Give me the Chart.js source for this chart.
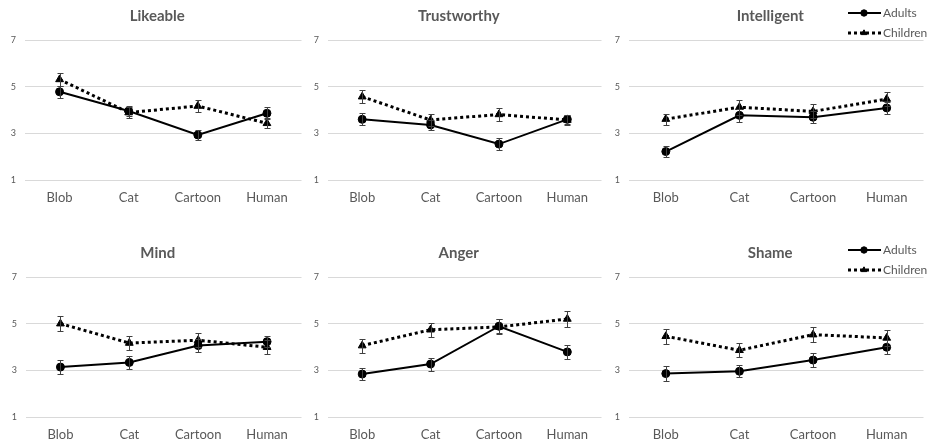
<!DOCTYPE html>
<html>
<head>
<meta charset="utf-8">
<script src="https://cdn.jsdelivr.net/npm/chart.js@4.4.1/dist/chart.umd.min.js"></script>
<style>
body{margin:0;background:#fff;width:929px;height:443px;position:relative;overflow:hidden}
canvas{position:absolute}
</style>
</head>
<body>
<canvas id="p0"></canvas>
<canvas id="p1"></canvas>
<canvas id="p2"></canvas>
<canvas id="p3"></canvas>
<canvas id="p4"></canvas>
<canvas id="p5"></canvas>
<script>
const categories = ['Blob', 'Cat', 'Cartoon', 'Human']
const panelTitles = ['Likeable', 'Trustworthy', 'Intelligent', 'Mind', 'Anger', 'Shame']
const yTicks = [1, 3, 5, 7]
const seriesNames = ['Adults', 'Children']

// means, one row per panel
const adultsMean = [
    [4.78, 3.96, 2.93, 3.86],
    [3.60, 3.36, 2.54, 3.60],
    [2.22, 3.77, 3.69, 4.09],
    [3.14, 3.34, 4.06, 4.23],
    [2.84, 3.27, 4.89, 3.79],
    [2.86, 2.96, 3.44, 3.99]
]
const childrenMean = [
    [5.31, 3.89, 4.17, 3.43],
    [4.57, 3.57, 3.81, 3.57],
    [3.61, 4.12, 3.94, 4.47],
    [5.00, 4.17, 4.29, 3.99],
    [4.06, 4.74, 4.86, 5.20],
    [4.46, 3.86, 4.53, 4.39]
]
// error bar half widths
const adultsErr = [
    [0.26, 0.20, 0.21, 0.25],
    [0.25, 0.20, 0.26, 0.20],
    [0.24, 0.29, 0.25, 0.25],
    [0.29, 0.29, 0.27, 0.24],
    [0.26, 0.28, 0.30, 0.29],
    [0.32, 0.26, 0.29, 0.29]
]
const childrenErr = [
    [0.28, 0.22, 0.27, 0.21],
    [0.29, 0.24, 0.28, 0.22],
    [0.24, 0.32, 0.30, 0.31],
    [0.31, 0.30, 0.29, 0.29],
    [0.30, 0.29, 0.32, 0.34],
    [0.31, 0.30, 0.33, 0.34]
]

// where each small chart sits on the page
const panelBoxes = [
    {left: 6, top: 0, w: 301, pr: 0}, {left: 309, top: 0, w: 298, pr: 0}, {left: 610, top: 0, w: 319, pr: 2},
    {left: 7, top: 237, w: 300, pr: 0}, {left: 309, top: 237, w: 298, pr: 0}, {left: 610, top: 237, w: 319, pr: 2}
]

const gris = '#595959'
Chart.defaults.font.family = 'Lato, "Open Sans", sans-serif'
Chart.defaults.color = gris

/*********************************************
*   PLUGINS
**********************************************/
const errorBars = {
    id: 'errorBars',
    afterDatasetsDraw(chart) {
        const ctx = chart.ctx
        const y = chart.scales.y
        chart.data.datasets.forEach((ds, d) => {
            const meta = chart.getDatasetMeta(d)
            ctx.save()
            ctx.strokeStyle = '#404040'
            ctx.lineWidth = 1
            meta.data.forEach((pt, i) => {
                const top = Math.round(y.getPixelForValue(ds.data[i] + ds.errors[i])) + 0.5
                const bot = Math.round(y.getPixelForValue(ds.data[i] - ds.errors[i])) + 0.5
                const x = Math.round(pt.x) + 0.5
                ctx.beginPath()
                ctx.moveTo(x, top); ctx.lineTo(x, bot)
                ctx.moveTo(x - 3, top); ctx.lineTo(x + 3, top)
                ctx.moveTo(x - 3, bot); ctx.lineTo(x + 3, bot)
                ctx.stroke()
            })
            ctx.restore()
        })
    }
}

// centre the title over the plot area instead of the canvas
const titleOverPlot = {
    id: 'titleOverPlot',
    afterLayout(chart) {
        if (chart.titleBlock) {
            chart.titleBlock.left = chart.chartArea.left - 6
            chart.titleBlock.right = chart.chartArea.right - 6
        }
    }
}

// legend with line + marker, as in the original
const seriesKey = {
    id: 'seriesKey',
    afterDraw(chart, args, opts) {
        if (!opts.show) return
        const ctx = chart.ctx
        chart.data.datasets.forEach((ds, d) => {
            const yy = 13 + d * 20
            ctx.save()
            ctx.strokeStyle = '#000'
            ctx.fillStyle = '#000'
            ctx.lineWidth = ds.borderWidth
            ctx.setLineDash(ds.borderDash || [])
            ctx.beginPath()
            ctx.moveTo(238, yy); ctx.lineTo(271, yy)
            ctx.stroke()
            ctx.setLineDash([])
            ctx.lineWidth = 1
            Chart.helpers.drawPoint(ctx, {pointStyle: ds.pointStyle, radius: 3.2, borderWidth: 1, rotation: 0}, 254, yy)
            ctx.fillStyle = gris
            ctx.font = '12px Lato, "Open Sans", sans-serif'
            ctx.textBaseline = 'middle'
            ctx.fillText(ds.label, 273, yy)
            ctx.restore()
        })
    }
}

function grafico(n) {
    const box = panelBoxes[n]
    const cv = document.getElementById('p' + n)
    cv.width = box.w
    cv.height = 206
    cv.style.left = box.left + 'px'
    cv.style.top = box.top + 'px'

    const data = {
        labels: categories,
        datasets: [{
            label: seriesNames[0],
            data: adultsMean[n],
            errors: adultsErr[n],
            borderColor: '#000',
            backgroundColor: '#000',
            borderWidth: 2,
            pointStyle: 'circle',
            pointRadius: 4,
            pointBorderWidth: 1
        }, {
            label: seriesNames[1],
            data: childrenMean[n],
            errors: childrenErr[n],
            borderColor: '#000',
            backgroundColor: '#000',
            borderWidth: 3,
            borderDash: [3, 3],
            pointStyle: 'triangle',
            pointRadius: 4.5,
            pointBorderWidth: 1
        }]
    }

    const options = {
        responsive: false,
        animation: false,
        devicePixelRatio: 1,
        layout: {padding: {right: box.pr}},
        scales: {
            x: {
                offset: true,
                grid: {display: false, drawTicks: false},
                border: {display: false},
                ticks: {padding: 10, font: {size: 13}, color: gris},
                afterFit: s => { s.height = 26 }
            },
            y: {
                min: yTicks[0],
                max: yTicks[yTicks.length - 1],
                afterBuildTicks: s => { s.ticks = yTicks.map(v => ({value: v})) },
                grid: {color: '#d9d9d9', drawTicks: false},
                border: {display: false},
                ticks: {padding: 9, font: {size: 9}, color: gris},
                afterFit: s => { s.width = 19 }
            }
        },
        plugins: {
            legend: {display: false},
            tooltip: {enabled: false},
            title: {
                display: true,
                text: panelTitles[n],
                color: gris,
                font: {size: 15, weight: 'bold'},
                padding: {top: 7, bottom: 15}
            },
            seriesKey: {show: n === 2 || n === 5}
        }
    }

    new Chart(cv, {type: 'line', data, options, plugins: [errorBars, titleOverPlot, seriesKey]})
}

for (let n = 0; n < panelTitles.length; n++) grafico(n)
</script>
</body>
</html>
